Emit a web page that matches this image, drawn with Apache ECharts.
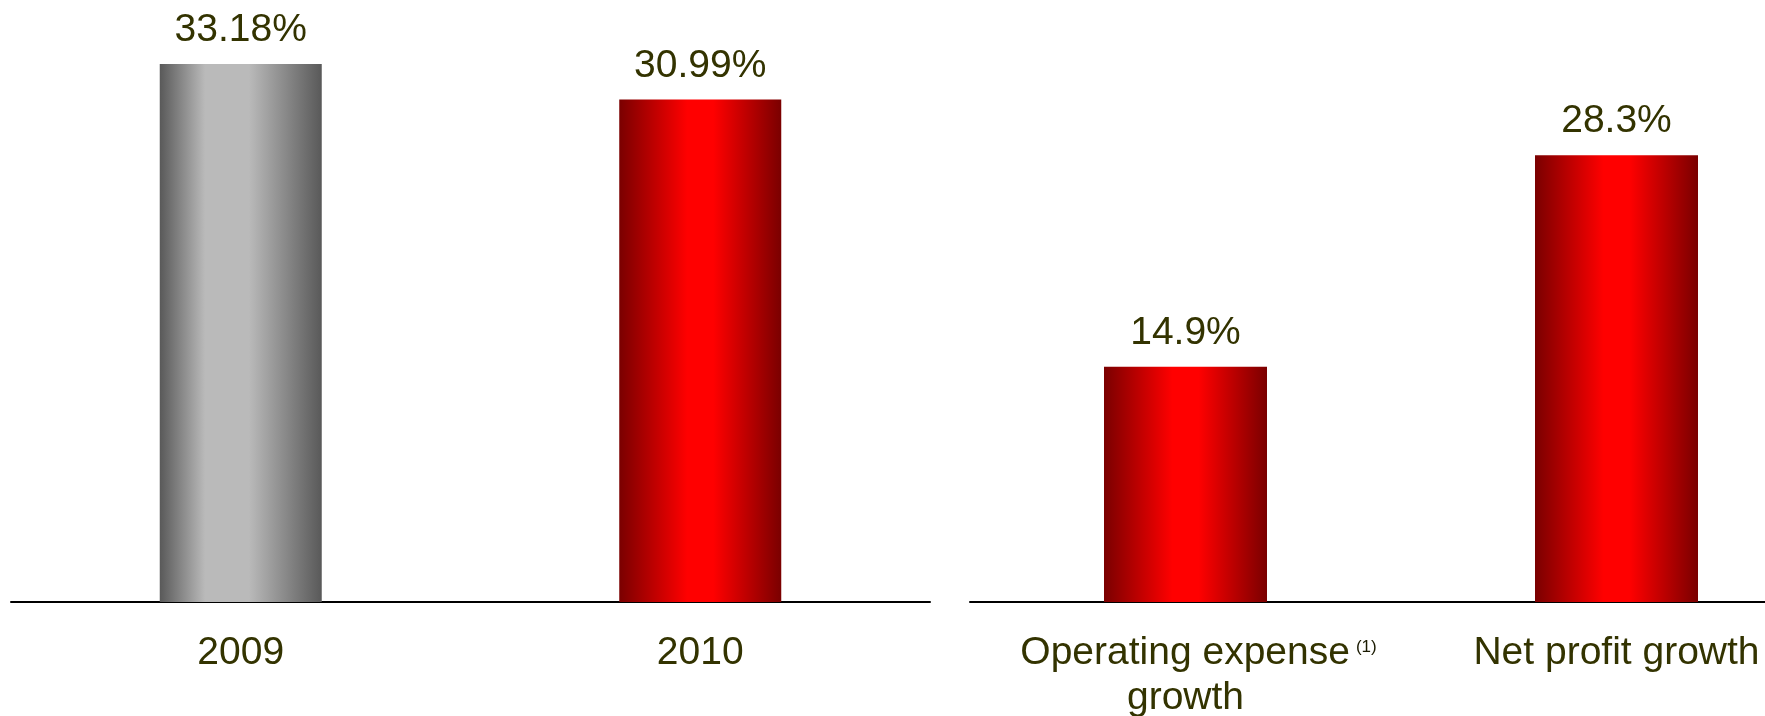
<!DOCTYPE html>
<html>
<head>
<meta charset="utf-8">
<script src="https://cdn.jsdelivr.net/npm/echarts@6/dist/echarts.min.js"></script>
<style>
  html, body { margin: 0; padding: 0; background: #fff; }
  #chart { width: 1765px; height: 716px; }
</style>
</head>
<body>
<div id="chart"></div>
<script>
// Left panel: ratio by year
const yearCategories = ['2009', '2010'];
const yearValues = [33.18, 30.99];

// Right panel: growth rates
const growthCategories = ['Operating expense', 'Net profit growth'];
const growthValues = [14.9, 28.3];

const TEXT_COLOR = '#333300';
const FONT = '"Liberation Sans", Arial, sans-serif';

function hGrad(stops) {
  return new echarts.graphic.LinearGradient(0, 0, 1, 0,
    stops.map(s => ({ offset: s[0], color: s[1] })));
}
const greyGrad = hGrad([[0, '#595959'], [0.28, '#bababa'], [0.55, '#bababa'], [1, '#595959']]);
const redGrad = hGrad([[0, '#7a0000'], [0.42, '#ff0000'], [0.58, '#ff0000'], [1, '#7a0000']]);

const labelStyle = {
  show: true,
  position: 'top',
  distance: 14,
  color: TEXT_COLOR,
  fontFamily: FONT,
  fontSize: 39,
  formatter: p => p.value + '%'
};

const axisLabelBase = {
  color: TEXT_COLOR,
  fontFamily: FONT,
  fontSize: 39,
  margin: 32,
  interval: 0
};

const chart = echarts.init(document.getElementById('chart'), null, { renderer: 'canvas' });
chart.setOption({
  backgroundColor: '#ffffff',
  animation: false,
  grid: [
    { left: 11, width: 919, top: 2, bottom: 114, outerBoundsMode: 'none', containLabel: false },
    { left: 970, width: 862, top: 2, bottom: 114, outerBoundsMode: 'none', containLabel: false }
  ],
  xAxis: [
    {
      type: 'category', gridIndex: 0, data: yearCategories,
      axisLine: { lineStyle: { color: '#000', width: 2 } },
      axisTick: { show: false },
      axisLabel: axisLabelBase
    },
    {
      type: 'category', gridIndex: 1, data: growthCategories,
      axisLine: { lineStyle: { color: '#000', width: 2 } },
      axisTick: { show: false },
      axisLabel: Object.assign({}, axisLabelBase, {
        margin: 29,
        lineHeight: 45,
        formatter: v => v === 'Operating expense'
          ? '{sp|}Operating expense{sup|(1)}\ngrowth'
          : v,
        rich: {
          sp: { width: 26 },
          sup: { fontSize: 17, color: '#1a1a00', fontFamily: FONT, verticalAlign: 'middle', lineHeight: 20, padding: [0, 0, 12, 6] }
        }
      })
    }
  ],
  yAxis: [
    { type: 'value', gridIndex: 0, min: 0, max: 37, show: false, splitLine: { show: false } },
    { type: 'value', gridIndex: 1, min: 0, max: 38, show: false, splitLine: { show: false } }
  ],
  series: [
    {
      type: 'bar', xAxisIndex: 0, yAxisIndex: 0, barWidth: 162,
      data: yearValues.map((v, i) => ({
        value: v,
        itemStyle: { color: i === 0 ? greyGrad : redGrad }
      })),
      label: labelStyle
    },
    {
      type: 'bar', xAxisIndex: 1, yAxisIndex: 1, barWidth: 163,
      data: growthValues,
      itemStyle: { color: redGrad },
      label: labelStyle
    }
  ]
});
</script>
</body>
</html>
